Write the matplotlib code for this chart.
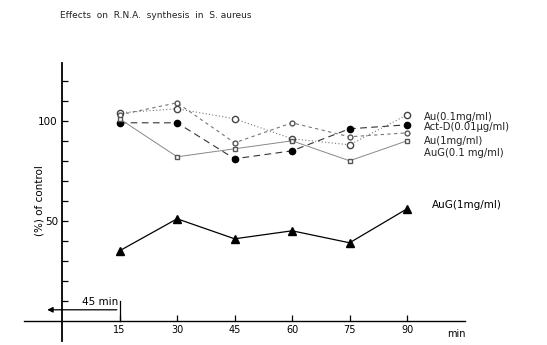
# RNA synthesis effects - scanned figure remake
import matplotlib.pyplot as plt

times = [15, 30, 45, 60, 75, 90]

au_01 = [104, 106, 101, 91, 88, 103]      # Au(0.1mg/ml)
act_d = [99, 99, 81, 85, 96, 98]          # Act-D(0.01ug/ml)
au_1 = [103, 109, 89, 99, 92, 94]         # Au(1mg/ml)
aug_01 = [101, 82, 86, 90, 80, 90]        # AuG(0.1 mg/ml)
aug_1 = [35, 51, 41, 45, 39, 56]          # AuG(1mg/ml)

labels = ["Au(0.1mg/ml)", "Act-D(0.01\u00b5g/ml)", "Au(1mg/ml)", "AuG(0.1 mg/ml)"]
label_y = [102, 97, 90, 84]

fig = plt.figure(figsize=(5.47, 3.45), dpi=100)
ax = fig.add_axes([0, 0, 1, 1])
ax.set_xlim(-16.2, 126.5)
ax.set_ylim(-12.1, 160.4)

# axes through the origin
for s in ['top', 'right']:
    ax.spines[s].set_visible(False)
ax.spines['left'].set_position(('data', 0))
ax.spines['bottom'].set_position(('data', 0))
ax.spines['left'].set_bounds(-10, 129)
ax.spines['bottom'].set_bounds(-10, 105)
ax.spines['left'].set_linewidth(1.3)
ax.spines['bottom'].set_linewidth(1.0)

ax.set_xticks(times)
ax.set_xticklabels([str(t) for t in times], fontsize=7)
ax.set_yticks([50, 100])
ax.set_yticklabels(['50', '100'], fontsize=7.5)
ax.set_yticks(range(10, 130, 10), minor=True)
ax.tick_params(axis='both', direction='in', length=4, width=0.9, pad=3)
ax.tick_params(axis='y', which='minor', direction='in', length=4, width=0.9)
ax.tick_params(axis='x', pad=3)

ax.plot(times, au_01, color='#777777', ls=(0, (1, 2)), lw=0.8,
        marker='o', mfc='white', mec='#444444', ms=4.5)
ax.plot(times, act_d, color='#333333', ls=(0, (6, 4)), lw=0.8,
        marker='o', mfc='black', mec='black', ms=4.5)
ax.plot(times, au_1, color='#777777', ls=(0, (3, 3)), lw=0.8,
        marker='o', mfc='white', mec='#555555', ms=3.5)
ax.plot(times, aug_01, color='#888888', ls='-', lw=0.7,
        marker='s', mfc='white', mec='#555555', ms=3.5)
ax.plot(times, aug_1, color='black', ls='-', lw=0.9,
        marker='^', mfc='black', mec='black', ms=5.5)

for lab, ly in zip(labels, label_y):
    ax.text(94.5, ly, lab, fontsize=7.2, va='center', ha='left', color='#222222')
ax.text(96.5, 58, "AuG(1mg/ml)", fontsize=7.5, va='center', ha='left')

ax.text(100.5, -6.5, "min", fontsize=7, ha='left', va='center')

# 45 min pre-incubation bracket
ax.annotate('', xy=(-4.6, 5.5), xytext=(15, 5.5),
            arrowprops=dict(arrowstyle='-|>', color='black', lw=0.9,
                            mutation_scale=8))
ax.plot([15, 15], [0, 10], color='black', lw=0.9)
ax.text(14.6, 7.0, "45 min", fontsize=7.5, ha='right', va='bottom')

fig.text(0.11, 0.955, "Effects  on  R.N.A.  synthesis  in  S. aureus",
         fontsize=6.5, ha='left', va='center', color='#222222')
ax.text(-5.8, 60, "(%) of control", rotation=90, fontsize=7.5,
        ha='center', va='center')

plt.savefig("out.png", dpi=100)
